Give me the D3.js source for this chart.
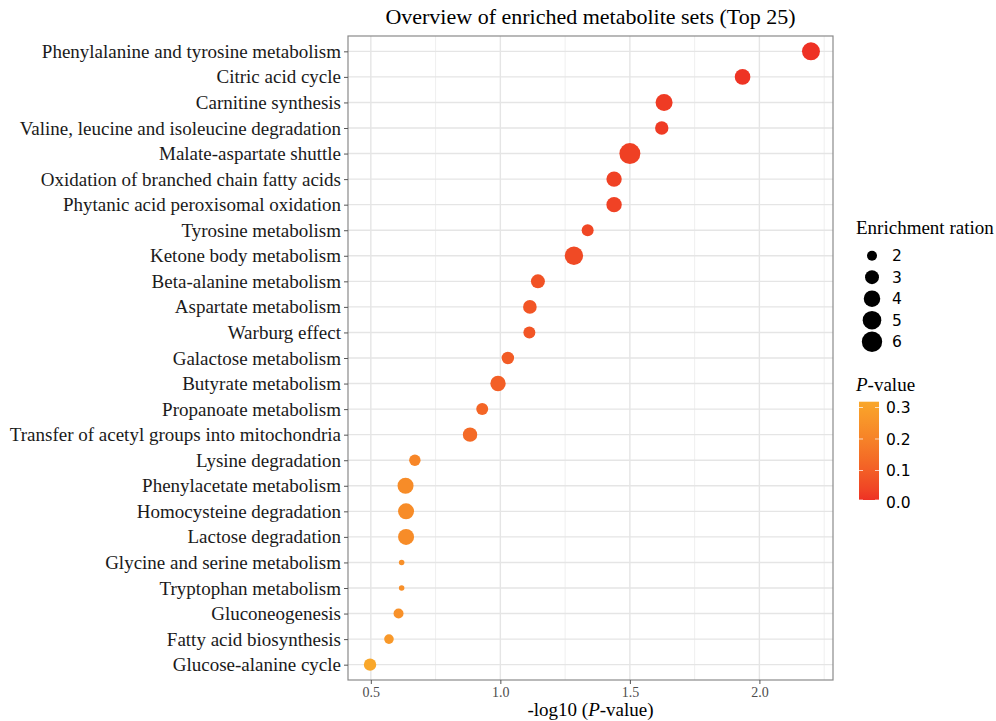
<!DOCTYPE html>
<html>
<head>
<meta charset="utf-8">
<script src="https://cdn.jsdelivr.net/npm/d3@7"></script>
<style>
  body { margin: 0; background: #fff; }
  text { font-family: "Liberation Serif", "Times New Roman", serif; }
  .sans { font-family: "DejaVu Sans", sans-serif; }
</style>
</head>
<body>
<svg id="chart" width="996" height="721"></svg>
<script>
// metabolite sets, top to bottom
var pathways = [
  'Phenylalanine and tyrosine metabolism', 'Citric acid cycle', 'Carnitine synthesis',
  'Valine, leucine and isoleucine degradation', 'Malate-aspartate shuttle',
  'Oxidation of branched chain fatty acids', 'Phytanic acid peroxisomal oxidation',
  'Tyrosine metabolism', 'Ketone body metabolism', 'Beta-alanine metabolism',
  'Aspartate metabolism', 'Warburg effect', 'Galactose metabolism', 'Butyrate metabolism',
  'Propanoate metabolism', 'Transfer of acetyl groups into mitochondria', 'Lysine degradation',
  'Phenylacetate metabolism', 'Homocysteine degradation', 'Lactose degradation',
  'Glycine and serine metabolism', 'Tryptophan metabolism', 'Gluconeogenesis',
  'Fatty acid biosynthesis', 'Glucose-alanine cycle'
];
// -log10(P-value)
var logP = [2.199, 1.935, 1.632, 1.623, 1.500, 1.439, 1.439, 1.337, 1.284, 1.145,
            1.114, 1.112, 1.029, 0.991, 0.930, 0.883, 0.670, 0.634, 0.636, 0.636,
            0.619, 0.619, 0.607, 0.570, 0.497];
// enrichment ratio
var ratio = [4.69, 3.62, 4.22, 2.83, 6.36, 3.54, 3.54, 2.43, 4.90, 3.03,
             2.90, 2.43, 2.54, 3.54, 2.43, 3.17, 2.29, 3.78, 3.78, 3.78,
             1.60, 1.60, 2.00, 1.93, 2.54];
var sizeBreaks = [2, 3, 4, 5, 6];
var pBreaks = [0.0, 0.1, 0.2, 0.3];
var xTicks = [0.5, 1.0, 1.5, 2.0];
var xMinor = [0.75, 1.25, 1.75, 2.25];

var data = pathways.map(function(d, i){
  return { name: d, x: logP[i], p: Math.pow(10, -logP[i]), er: ratio[i] };
});

var svg = d3.select('#chart');
var panel = { left: 348, right: 833, top: 36, bottom: 680 };

var xExt = d3.extent(logP), xPad = (xExt[1] - xExt[0]) * 0.05;
var x = d3.scaleLinear().domain([xExt[0] - xPad, xExt[1] + xPad]).range([panel.left, panel.right]);
var y = d3.scalePoint().domain(pathways).range([panel.top, panel.bottom]).padding(0.6);

var erExt = d3.extent(ratio);
var sizeUnit = d3.scaleLinear().domain([0, 1]).range([2.76, 10.5]);
function radius(v){ return sizeUnit(Math.sqrt(Math.max(0, (v - erExt[0]) / (erExt[1] - erExt[0])))); }

var pExt = d3.extent(data, function(d){ return d.p; });
var color = d3.scaleLinear().domain(pExt).range(['#EE3124', '#F9A72A']).interpolate(d3.interpolateLab);

// grid
var g = svg.append('g');
g.selectAll('.minor').data(xMinor.filter(function(v){ return x(v) < panel.right; })).enter()
  .append('line')
  .attr('x1', function(d){ return x(d); }).attr('x2', function(d){ return x(d); })
  .attr('y1', panel.top).attr('y2', panel.bottom)
  .attr('stroke', '#ebebeb').attr('stroke-width', 0.8);
g.selectAll('.major').data(xTicks).enter()
  .append('line')
  .attr('x1', function(d){ return x(d); }).attr('x2', function(d){ return x(d); })
  .attr('y1', panel.top).attr('y2', panel.bottom)
  .attr('stroke', '#e5e5e5').attr('stroke-width', 1.4);
g.selectAll('.hgrid').data(pathways).enter()
  .append('line')
  .attr('x1', panel.left).attr('x2', panel.right)
  .attr('y1', function(d){ return y(d); }).attr('y2', function(d){ return y(d); })
  .attr('stroke', '#e5e5e5').attr('stroke-width', 1.4);

// points
g.selectAll('circle').data(data).enter()
  .append('circle')
  .attr('cx', function(d){ return x(d.x); })
  .attr('cy', function(d){ return y(d.name); })
  .attr('r', function(d){ return radius(d.er); })
  .attr('fill', function(d){ return color(d.p); });

// border
svg.append('rect')
  .attr('x', panel.left).attr('y', panel.top)
  .attr('width', panel.right - panel.left).attr('height', panel.bottom - panel.top)
  .attr('fill', 'none').attr('stroke', '#8a8a8a').attr('stroke-width', 1.2);

// axes
var yAxis = d3.axisLeft(y).tickSize(4).tickPadding(3);
var ya = svg.append('g').attr('transform', 'translate(' + panel.left + ',0)').call(yAxis);
ya.select('.domain').remove();
ya.selectAll('line').attr('stroke', '#555');
ya.selectAll('text').attr('fill', '#1a1a1a').style('font-size', '19px')
  .style('font-family', '"Liberation Serif", serif');

var xAxis = d3.axisBottom(x).tickValues(xTicks).tickFormat(d3.format('.1f')).tickSize(4).tickPadding(3);
var xa = svg.append('g').attr('transform', 'translate(0,' + panel.bottom + ')').call(xAxis);
xa.select('.domain').remove();
xa.selectAll('line').attr('stroke', '#555');
xa.selectAll('text').attr('fill', '#4d4d4d').style('font-size', '14px')
  .style('font-family', '"Liberation Serif", serif');

// titles
var cx = (panel.left + panel.right) / 2;
svg.append('text').attr('x', cx).attr('y', 24).attr('text-anchor', 'middle')
  .style('font-size', '22px').text('Overview of enriched metabolite sets (Top 25)');
var xt = svg.append('text').attr('x', cx).attr('y', 716).attr('text-anchor', 'middle')
  .style('font-size', '19px');
xt.append('tspan').text('-log10 (');
xt.append('tspan').style('font-style', 'italic').text('P');
xt.append('tspan').text('-value)');

// size legend
svg.append('text').attr('x', 856).attr('y', 234).style('font-size', '19px').text('Enrichment ration');
var sl = svg.append('g');
var legY = d3.scalePoint().domain(sizeBreaks).range([255.7, 341.7]);
sl.selectAll('circle').data(sizeBreaks).enter().append('circle')
  .attr('cx', 872).attr('cy', function(d){ return legY(d); })
  .attr('r', function(d){ return radius(d); }).attr('fill', '#000');
sl.selectAll('text').data(sizeBreaks).enter().append('text')
  .attr('class', 'sans').attr('x', 892).attr('y', function(d){ return legY(d); })
  .attr('dy', '0.36em').style('font-size', '15.5px').text(function(d){ return d; });

// colour legend
var pt = svg.append('text').attr('x', 856).attr('y', 391).style('font-size', '19px');
pt.append('tspan').style('font-style', 'italic').text('P');
pt.append('tspan').text('-value');

var bar = { x: 859, w: 20, top: 401.7, bottom: 500 };
var cbY = d3.scaleLinear().domain(pExt).range([bar.bottom, bar.top]);
var grad = svg.append('defs').append('linearGradient').attr('id', 'pgrad')
  .attr('x1', 0).attr('x2', 0).attr('y1', 1).attr('y2', 0);
d3.range(0, 1.0001, 0.1).forEach(function(t){
  grad.append('stop').attr('offset', t).attr('stop-color', color(pExt[0] + t * (pExt[1] - pExt[0])));
});
svg.append('rect').attr('x', bar.x).attr('y', bar.top).attr('width', bar.w)
  .attr('height', bar.bottom - bar.top).attr('fill', 'url(#pgrad)');
var cl = svg.append('g');
pBreaks.forEach(function(b){
  var yy = Math.min(cbY(b), bar.bottom);
  cl.append('line').attr('x1', bar.x).attr('x2', bar.x + 4).attr('y1', yy).attr('y2', yy)
    .attr('stroke', '#fff').attr('stroke-opacity', 0.7);
  cl.append('line').attr('x1', bar.x + bar.w - 4).attr('x2', bar.x + bar.w).attr('y1', yy).attr('y2', yy)
    .attr('stroke', '#fff').attr('stroke-opacity', 0.7);
  cl.append('text').attr('class', 'sans').attr('x', 886).attr('y', cbY(b)).attr('dy', '0.36em')
    .style('font-size', '15.5px').text(d3.format('.1f')(b));
});
</script>
</body>
</html>
